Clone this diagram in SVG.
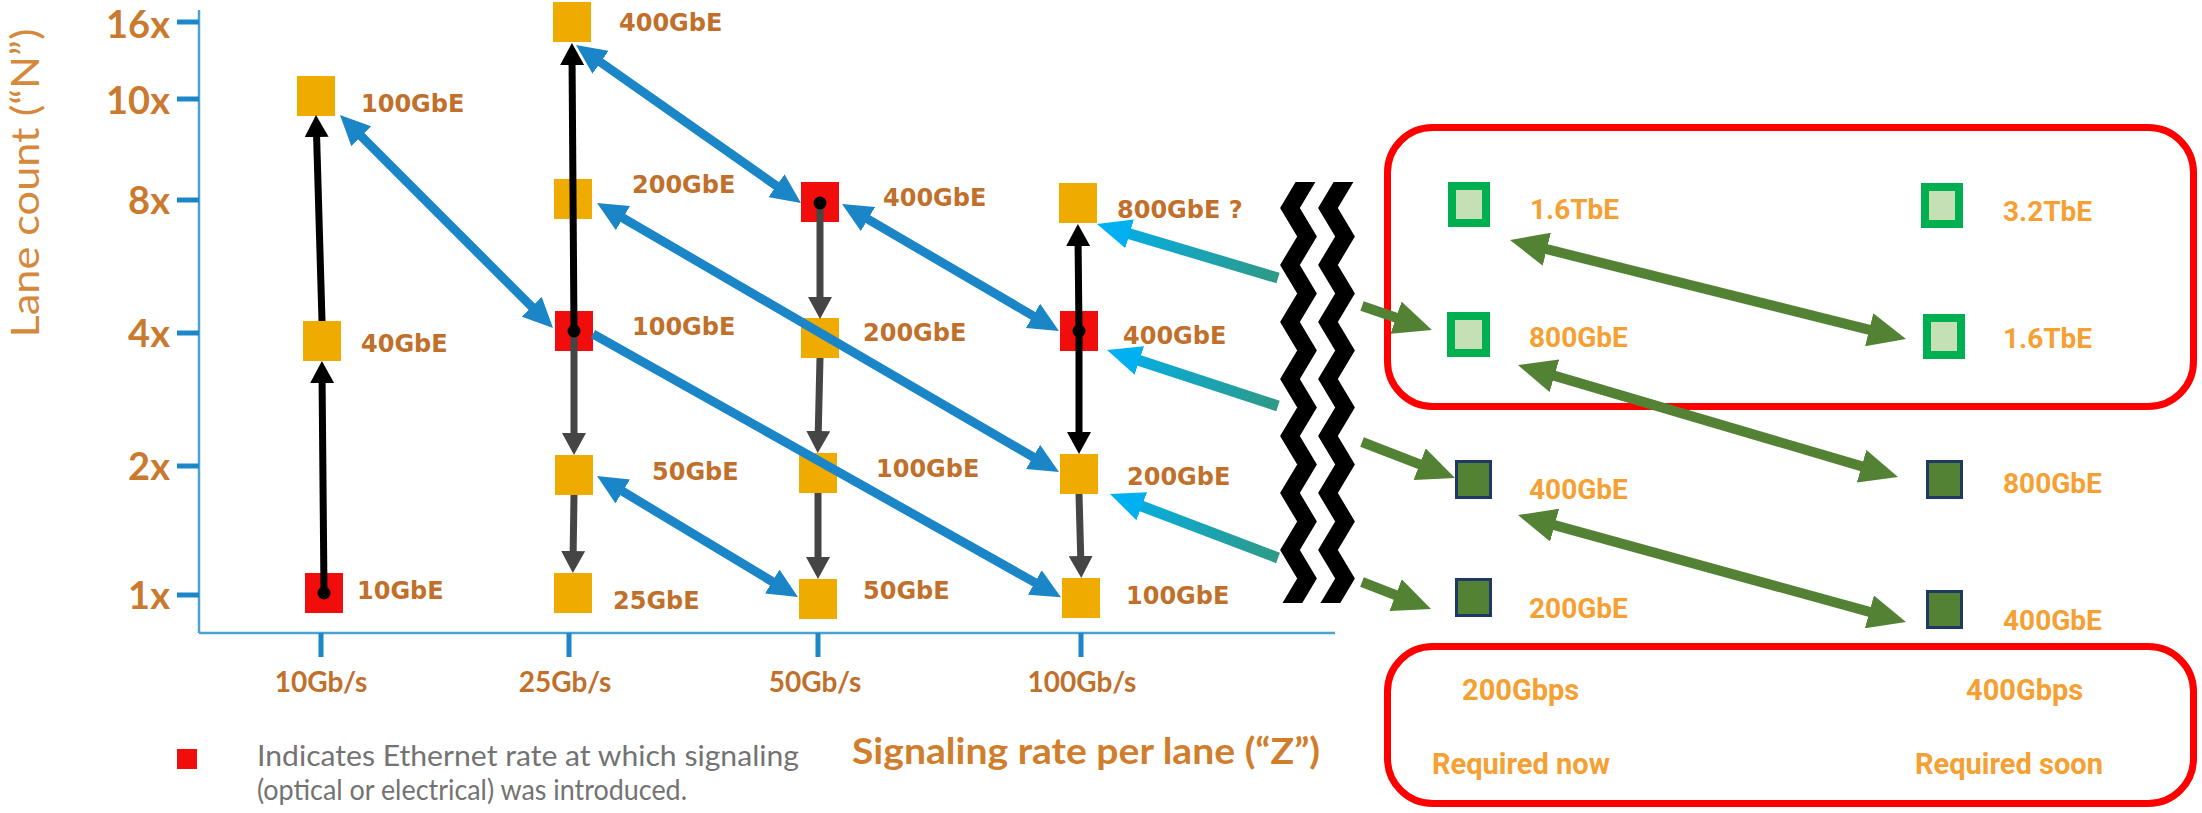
<svg xmlns="http://www.w3.org/2000/svg" width="2202" height="813" viewBox="0 0 2202 813">
<style>
.sq{fill:#F0AB00}
.sqr{fill:#F20D0D}
.lbl{font-family:"DejaVu Sans",sans-serif;font-weight:700;font-size:24px;fill:#C0702B}
.ytk{font-family:Lato,"Liberation Sans",sans-serif;font-weight:700;font-size:38px;fill:#C97A2E;text-anchor:end}
.xtk{font-family:Lato,"Liberation Sans",sans-serif;font-weight:700;font-size:28px;fill:#C0702A;text-anchor:middle}
.tick{stroke:#1B87C9;stroke-width:5}
.axis{stroke:#4BA2D5;stroke-width:2.5;fill:none}
.blk{stroke:#000;stroke-width:7;fill:none}
.gry{stroke:#454545;stroke-width:7;fill:none}
.blu{stroke:#1A86C7;stroke-width:9;fill:none}
.cyn{stroke-width:11;fill:none}
.grn{stroke:#548235;stroke-width:10;fill:none}
.lt{fill:#C5E0B4;stroke:#00B050;stroke-width:8}
.dk{fill:#548235;stroke:#1F3864;stroke-width:3}
.rl{font-family:Roboto,"Liberation Sans",sans-serif;font-weight:700;font-size:28px;fill:#F6A033}
.rb{font-family:Roboto,"Liberation Sans",sans-serif;font-weight:700;font-size:29px;fill:#F6A033}
.box{fill:none;stroke:#FF0000;stroke-width:7}
.zz{fill:none;stroke:#000;stroke-width:17;stroke-linejoin:miter;stroke-miterlimit:10}
.leg{font-family:Lato,"Liberation Sans",sans-serif;font-weight:400;font-size:28px;fill:#737373}
</style>
<defs>
<marker id="mBlk" markerUnits="userSpaceOnUse" markerWidth="22" markerHeight="24" viewBox="0 0 22 24" refX="11" refY="12" orient="auto-start-reverse"><path d="M0,0 L22,12 L0,24 z" fill="#000"/></marker>
<marker id="mGry" markerUnits="userSpaceOnUse" markerWidth="22" markerHeight="24" viewBox="0 0 22 24" refX="11" refY="12" orient="auto-start-reverse"><path d="M0,0 L22,12 L0,24 z" fill="#454545"/></marker>
<marker id="mBlu" markerUnits="userSpaceOnUse" markerWidth="30" markerHeight="28" viewBox="0 0 30 28" refX="15" refY="14" orient="auto-start-reverse"><path d="M0,0 L30,14 L0,28 z" fill="#1A86C7"/></marker>
<marker id="mCyn" markerUnits="userSpaceOnUse" markerWidth="34" markerHeight="30" viewBox="0 0 34 30" refX="17" refY="15" orient="auto-start-reverse"><path d="M0,0 L34,15 L0,30 z" fill="#00B0F0"/></marker>
<marker id="mGrn" markerUnits="userSpaceOnUse" markerWidth="38" markerHeight="34" viewBox="0 0 38 34" refX="19" refY="17" orient="auto-start-reverse"><path d="M0,0 L38,17 L0,34 z" fill="#548235"/></marker>
<linearGradient id="gC1" gradientUnits="userSpaceOnUse" x1="1097" y1="224" x2="1275" y2="277"><stop offset="0" stop-color="#00B0F0"/><stop offset="1" stop-color="#2E9A88"/></linearGradient>
<linearGradient id="gC2" gradientUnits="userSpaceOnUse" x1="1107" y1="350" x2="1275" y2="405"><stop offset="0" stop-color="#00B0F0"/><stop offset="1" stop-color="#2E9A88"/></linearGradient>
<linearGradient id="gC3" gradientUnits="userSpaceOnUse" x1="1110" y1="494" x2="1275" y2="557"><stop offset="0" stop-color="#00B0F0"/><stop offset="1" stop-color="#2E9A88"/></linearGradient>
<clipPath id="zzClip"><rect x="1260" y="182" width="120" height="421"/></clipPath>
</defs>
<rect width="2202" height="813" fill="#fff"/>

<g id="axes">
<line class="axis" x1="199" y1="10" x2="199" y2="633"/>
<line class="axis" x1="199" y1="633" x2="1335" y2="633"/>
<line class="tick" x1="177" y1="22" x2="199" y2="22"/>
<line class="tick" x1="177" y1="99" x2="199" y2="99"/>
<line class="tick" x1="177" y1="200" x2="199" y2="200"/>
<line class="tick" x1="177" y1="333" x2="199" y2="333"/>
<line class="tick" x1="177" y1="466" x2="199" y2="466"/>
<line class="tick" x1="177" y1="595" x2="199" y2="595"/>
<line class="tick" x1="321" y1="633" x2="321" y2="657"/>
<line class="tick" x1="569" y1="633" x2="569" y2="657"/>
<line class="tick" x1="818" y1="633" x2="818" y2="657"/>
<line class="tick" x1="1081" y1="633" x2="1081" y2="657"/>
<text class="ytk" x="170" y="38">16x</text>
<text class="ytk" x="170" y="114">10x</text>
<text class="ytk" x="170" y="214">8x</text>
<text class="ytk" x="170" y="347">4x</text>
<text class="ytk" x="170" y="480">2x</text>
<text class="ytk" x="170" y="609">1x</text>
<text class="xtk" x="321" y="692">10Gb/s</text>
<text class="xtk" x="565" y="692">25Gb/s</text>
<text class="xtk" x="815" y="692">50Gb/s</text>
<text class="xtk" x="1082" y="692">100Gb/s</text>
<text transform="translate(39,183) rotate(-90)" text-anchor="middle" font-family="Lato, 'Liberation Sans', sans-serif" font-size="39" fill="#D4893C" textLength="309" lengthAdjust="spacingAndGlyphs">Lane count (“N”)</text>
<text x="852" y="764" font-family="Lato, 'Liberation Sans', sans-serif" font-weight="700" font-size="36" fill="#D07E2C" textLength="468" lengthAdjust="spacingAndGlyphs">Signaling rate per lane (“Z”)</text>
</g>

<g id="legend">
<rect x="177" y="749" width="20" height="20" fill="#F20D0D"/>
<text class="leg" x="257" y="766" textLength="542" lengthAdjust="spacingAndGlyphs">Indicates Ethernet rate at which signaling</text>
<text class="leg" x="257" y="800" textLength="430" lengthAdjust="spacingAndGlyphs">(optical or electrical) was introduced.</text>
</g>

<g id="n10g-100gbe"><rect class="sq" x="297" y="76" width="38" height="40"/><text class="lbl" x="361" y="112">100GbE</text></g>
<g id="n10g-40gbe"><rect class="sq" x="303" y="321" width="38" height="40"/><text class="lbl" x="361" y="352">40GbE</text></g>
<g id="n10g-10gbe"><rect class="sqr" x="305" y="573" width="38" height="40"/><text class="lbl" x="357" y="599">10GbE</text></g>
<g id="n25g-400gbe"><rect class="sq" x="553" y="2" width="38" height="40"/><text class="lbl" x="619" y="31">400GbE</text></g>
<g id="n25g-200gbe"><rect class="sq" x="554" y="179" width="38" height="40"/><text class="lbl" x="632" y="193">200GbE</text></g>
<g id="n25g-100gbe"><rect class="sqr" x="555" y="311" width="38" height="40"/><text class="lbl" x="632" y="335">100GbE</text></g>
<g id="n25g-50gbe"><rect class="sq" x="555" y="455" width="38" height="40"/><text class="lbl" x="652" y="480">50GbE</text></g>
<g id="n25g-25gbe"><rect class="sq" x="554" y="573" width="38" height="40"/><text class="lbl" x="613" y="609">25GbE</text></g>
<g id="n50g-400gbe"><rect class="sqr" x="801" y="182" width="38" height="40"/><text class="lbl" x="883" y="206">400GbE</text></g>
<g id="n50g-200gbe"><rect class="sq" x="801" y="318" width="38" height="40"/><text class="lbl" x="863" y="341">200GbE</text></g>
<g id="n50g-100gbe"><rect class="sq" x="799" y="453" width="38" height="40"/><text class="lbl" x="876" y="477">100GbE</text></g>
<g id="n50g-50gbe"><rect class="sq" x="799" y="579" width="38" height="40"/><text class="lbl" x="863" y="599">50GbE</text></g>
<g id="n100g-800gbe"><rect class="sq" x="1059" y="183" width="38" height="40"/><text class="lbl" x="1117" y="218">800GbE ?</text></g>
<g id="n100g-400gbe"><rect class="sqr" x="1060" y="311" width="38" height="40"/><text class="lbl" x="1123" y="344">400GbE</text></g>
<g id="n100g-200gbe"><rect class="sq" x="1060" y="454" width="38" height="40"/><text class="lbl" x="1127" y="485">200GbE</text></g>
<g id="n100g-100gbe"><rect class="sq" x="1062" y="578" width="38" height="40"/><text class="lbl" x="1126" y="604">100GbE</text></g>

<g id="box-future"><rect class="box" x="1387.5" y="127.5" width="806" height="279" rx="45" ry="45"/></g>
<g id="box-required"><rect class="box" x="1387.5" y="646.5" width="806" height="157" rx="45" ry="45"/>
<text class="rb" x="1462" y="700">200Gbps</text>
<text class="rb" x="1966" y="700">400Gbps</text>
<text class="rb" x="1432" y="774">Required now</text>
<text class="rb" x="1915" y="774">Required soon</text>
</g>

<g id="r-1-6tbe-a"><rect class="lt" x="1452" y="186" width="34" height="37"/><text class="rl" x="1530" y="219">1.6TbE</text></g>
<g id="r-3-2tbe"><rect class="lt" x="1925" y="187" width="34" height="37"/><text class="rl" x="2003" y="221">3.2TbE</text></g>
<g id="r-800gbe-a"><rect class="lt" x="1451" y="316" width="35" height="37"/><text class="rl" x="1529" y="347">800GbE</text></g>
<g id="r-1-6tbe-b"><rect class="lt" x="1927" y="318" width="34" height="37"/><text class="rl" x="2003" y="348">1.6TbE</text></g>
<g id="r-400gbe-a"><rect class="dk" x="1456.5" y="461.5" width="34" height="36"/><text class="rl" x="1529" y="499">400GbE</text></g>
<g id="r-800gbe-b"><rect class="dk" x="1927.5" y="461.5" width="34" height="36"/><text class="rl" x="2003" y="493">800GbE</text></g>
<g id="r-200gbe"><rect class="dk" x="1456.5" y="579.5" width="34" height="36"/><text class="rl" x="1529" y="618">200GbE</text></g>
<g id="r-400gbe-b"><rect class="dk" x="1927.5" y="591.5" width="34" height="36"/><text class="rl" x="2003" y="630">400GbE</text></g>

<g id="connectors">
<line class="blk" x1="324" y1="593" x2="322" y2="372" marker-end="url(#mBlk)"/>
<line class="blk" x1="322" y1="321" x2="316.3" y2="126" marker-end="url(#mBlk)"/>
<line class="blk" x1="574" y1="331" x2="572" y2="54" marker-end="url(#mBlk)"/>
<line class="gry" x1="574" y1="331" x2="574" y2="444" marker-end="url(#mGry)"/>
<line class="gry" x1="574" y1="495" x2="573" y2="562" marker-end="url(#mGry)"/>
<line class="gry" x1="820" y1="203" x2="820" y2="308" marker-end="url(#mGry)"/>
<line class="gry" x1="820" y1="358" x2="818" y2="442" marker-end="url(#mGry)"/>
<line class="gry" x1="818" y1="493" x2="818" y2="568" marker-end="url(#mGry)"/>
<line class="blk" x1="1079" y1="331" x2="1078" y2="235" marker-end="url(#mBlk)"/>
<line class="blk" x1="1079" y1="331" x2="1079" y2="443" marker-end="url(#mBlk)"/>
<line class="gry" x1="1079" y1="494" x2="1081" y2="567" marker-end="url(#mGry)"/>

<line class="blu" x1="350.6" y1="125.6" x2="542.4" y2="317.4" marker-start="url(#mBlu)" marker-end="url(#mBlu)"/>
<line class="blu" x1="588.3" y1="53.6" x2="788.7" y2="194.4" marker-start="url(#mBlu)" marker-end="url(#mBlu)"/>
<line class="blu" x1="610" y1="210.5" x2="1046" y2="464.5" marker-start="url(#mBlu)" marker-end="url(#mBlu)"/>
<line class="blu" x1="593" y1="334" x2="1047.9" y2="589.8" marker-end="url(#mBlu)"/>
<line class="blu" x1="609.9" y1="483.7" x2="785.1" y2="589.3" marker-start="url(#mBlu)" marker-end="url(#mBlu)"/>
<line class="blu" x1="855" y1="211.6" x2="1046" y2="323.4" marker-start="url(#mBlu)" marker-end="url(#mBlu)"/>

<line class="cyn" stroke="url(#gC1)" x1="1278" y1="278" x2="1113.3" y2="228.9" marker-end="url(#mCyn)"/>
<line class="cyn" stroke="url(#gC2)" x1="1278" y1="406" x2="1123.2" y2="355.3" marker-end="url(#mCyn)"/>
<line class="cyn" stroke="url(#gC3)" x1="1278" y1="558" x2="1125.9" y2="500.1" marker-end="url(#mCyn)"/>

<line class="grn" x1="1528.4" y1="244.6" x2="1887.6" y2="334.4" marker-start="url(#mGrn)" marker-end="url(#mGrn)"/>
<line class="grn" x1="1536.2" y1="370.4" x2="1879.8" y2="471.6" marker-start="url(#mGrn)" marker-end="url(#mGrn)"/>
<line class="grn" x1="1536.3" y1="520.1" x2="1887.7" y2="616.9" marker-start="url(#mGrn)" marker-end="url(#mGrn)"/>
<line class="grn" x1="1362" y1="306" x2="1414" y2="323.8" marker-end="url(#mGrn)"/>
<line class="grn" x1="1362" y1="442" x2="1437.3" y2="471.1" marker-end="url(#mGrn)"/>
<line class="grn" x1="1362" y1="582" x2="1413.3" y2="602" marker-end="url(#mGrn)"/>

<circle cx="324" cy="593" r="6.5" fill="#000"/>
<circle cx="574" cy="331" r="6.5" fill="#000"/>
<circle cx="820" cy="203" r="6.5" fill="#000"/>
<circle cx="1079" cy="331" r="6.5" fill="#000"/>
</g>

<g id="break" clip-path="url(#zzClip)">
<path class="zz" d="M1290,151 L1307,179.5 L1290,208 L1307,236.5 L1290,265 L1307,293.5 L1290,322 L1307,350.5 L1290,379 L1307,407.5 L1290,436 L1307,464.5 L1290,493 L1307,521.5 L1290,550 L1307,578.5 L1290,607 L1307,635.5"/>
<path class="zz" transform="translate(38,0)" d="M1290,151 L1307,179.5 L1290,208 L1307,236.5 L1290,265 L1307,293.5 L1290,322 L1307,350.5 L1290,379 L1307,407.5 L1290,436 L1307,464.5 L1290,493 L1307,521.5 L1290,550 L1307,578.5 L1290,607 L1307,635.5"/>
</g>
</svg>
